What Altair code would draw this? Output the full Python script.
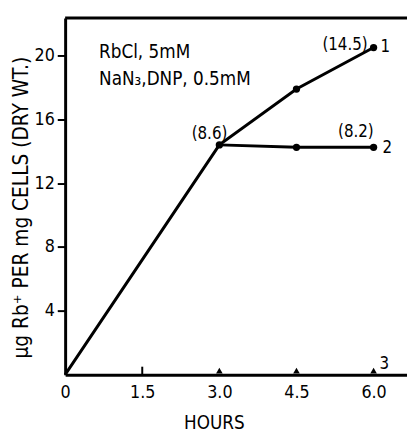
import altair as alt
import pandas as pd

# Data
hours_1 = [0.0, 3.0, 4.5, 6.0]
rb_1 = [0.0, 14.4, 17.9, 20.5]
hours_2 = [3.0, 4.5, 6.0]
rb_2 = [14.4, 14.25, 14.25]
hours_3 = [3.0, 4.5, 6.0]
rb_3 = [0.0, 0.0, 0.0]
x_ticks = [0, 1.5, 3.0, 4.5, 6.0]
y_ticks = [4, 8, 12, 16, 20]

# Curve labels: (hours, value, text, dx, dy, align)
lab_h = [6.0, 6.0, 3.0, 6.0, 6.0, 6.0]
lab_v = [20.5, 20.5, 14.4, 14.25, 14.25, 0.0]
lab_t = ["(14.5)", "1", "(8.6)", "(8.2)", "2", "3"]
lab_dx = [-29, 7, -10, -18, 9, 6]
lab_dy = [-3, 0, -11, -15, 1, -11]
lab_align = ["center", "left", "center", "center", "left", "left"]

note_lines = ["RbCl, 5mM", "NaN₃,DNP, 0.5mM"]
note_h = [0.66, 0.66]
note_v = [20.2, 18.5]

FONT = "DejaVu Sans Condensed, DejaVu Sans, sans-serif"
XMAX = 6.65
YMAX = 22.35
W, H = 347, 362

xs = alt.Scale(domain=[0, XMAX], nice=False, zero=False)
ys = alt.Scale(domain=[0, YMAX], nice=False)

label_expr = "datum.value == 0 ? '0' : format(datum.value, '.1f')"

df1 = pd.DataFrame({"h": hours_1, "v": rb_1})
df2 = pd.DataFrame({"h": hours_2, "v": rb_2})
df3 = pd.DataFrame({"h": hours_3, "v": rb_3})
dlab = pd.DataFrame({"h": lab_h, "v": lab_v, "t": lab_t})
dnote = pd.DataFrame({"h": note_h, "v": note_v, "t": note_lines})
dtick = pd.DataFrame({"h": [1.5], "v0": [0.0], "v1": [0.5]})

x_axis = alt.Axis(values=x_ticks, labelExpr=label_expr, ticks=False, grid=False,
                  domainWidth=3, domainColor="black", labelPadding=9,
                  labelFontSize=18, labelFont=FONT, labelColor="black",
                  title="HOURS", titleFontSize=19, titleFont=FONT, titleFontWeight="normal",
                  titleX=151, titleY=40, titleColor="black", labelFlush=False)
y_axis = alt.Axis(values=y_ticks, grid=False, domainWidth=3, domainColor="black",
                  tickSize=8, tickWidth=2, tickColor="black", labelPadding=3,
                  labelFontSize=18, labelFont=FONT, labelColor="black",
                  title="µg Rb⁺ PER mg CELLS (DRY WT.)", titleFontSize=21, titleFont=FONT,
                  titleFontWeight="normal", titleColor="black", titlePadding=3, titleY=192)

base1 = alt.Chart(df1).encode(x=alt.X("h:Q", scale=xs, axis=x_axis),
                              y=alt.Y("v:Q", scale=ys, axis=y_axis))
line1 = base1.mark_line(color="black", strokeWidth=3)
pts1 = alt.Chart(df1[df1.h > 3]).mark_point(filled=True, color="black", size=55, opacity=1).encode(
    x=alt.X("h:Q", scale=xs), y=alt.Y("v:Q", scale=ys))

base2 = alt.Chart(df2).encode(x=alt.X("h:Q", scale=xs), y=alt.Y("v:Q", scale=ys))
line2 = base2.mark_line(color="black", strokeWidth=3)
pts2 = base2.mark_point(filled=True, color="black", size=55, opacity=1)

pts3 = alt.Chart(df3).mark_point(shape="triangle-up", filled=True, color="black", size=45,
                                 opacity=1, yOffset=-4).encode(
    x=alt.X("h:Q", scale=xs), y=alt.Y("v:Q", scale=ys))

tick = alt.Chart(dtick).mark_rule(color="black", strokeWidth=2).encode(
    x=alt.X("h:Q", scale=xs), y=alt.Y("v0:Q", scale=ys), y2="v1:Q")

top = alt.Chart(dtick).mark_rule(color="black", strokeWidth=3).encode(
    x=alt.value(0), x2=alt.value(W), y=alt.value(0))

texts = []
for i in range(len(lab_t)):
    texts.append(alt.Chart(dlab.iloc[[i]]).mark_text(
        font=FONT, fontSize=17, color="black", align=lab_align[i], baseline="middle",
        dx=lab_dx[i], dy=lab_dy[i]).encode(
        x=alt.X("h:Q", scale=xs), y=alt.Y("v:Q", scale=ys), text="t:N"))

notes = alt.Chart(dnote).mark_text(font=FONT, fontSize=19, color="black", align="left",
                                   baseline="middle").encode(
    x=alt.X("h:Q", scale=xs), y=alt.Y("v:Q", scale=ys), text="t:N")

chart = alt.layer(line1, line2, pts1, pts2, pts3, tick, top, notes, *texts).properties(
    width=W, height=H,
    autosize=alt.AutoSizeParams(type="none"),
    padding={"left": 58, "top": 7, "right": 0, "bottom": 55},
).configure_view(stroke=None).configure(background="white")

chart.save("out.html", embed_options={"renderer": "svg", "actions": False})
